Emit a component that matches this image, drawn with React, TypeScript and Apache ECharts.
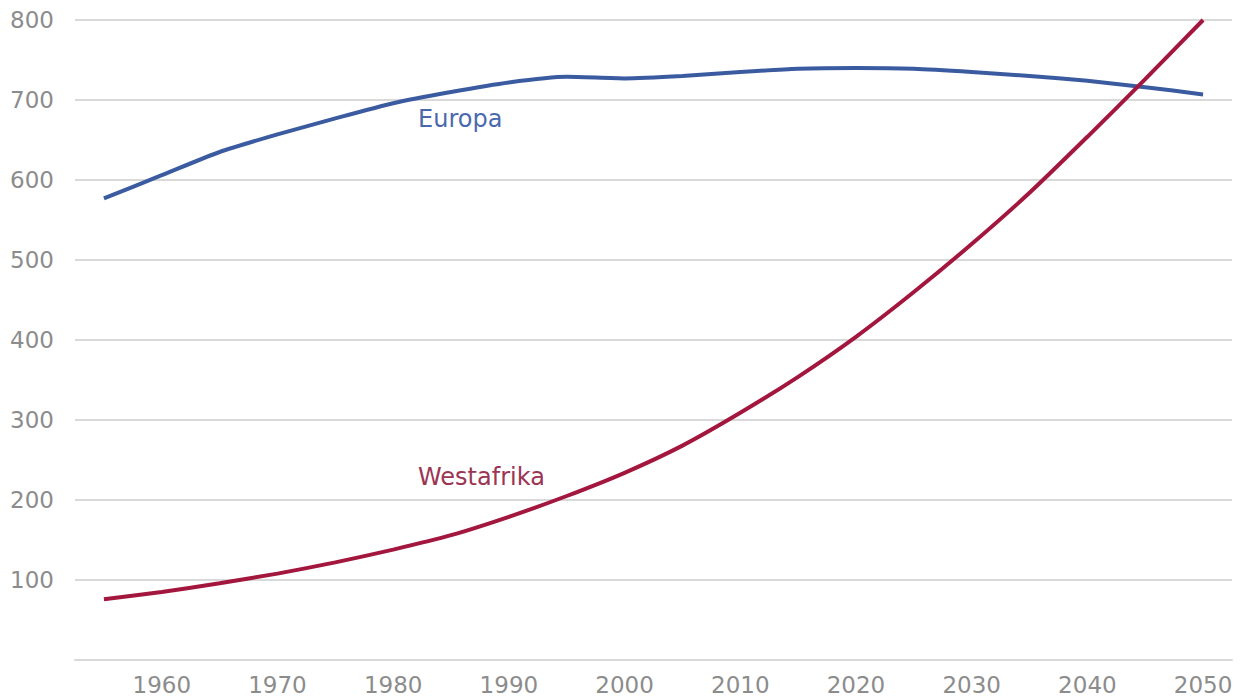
import React, { useEffect, useRef } from "react";
import * as echarts from "echarts";

const years = [
  "1955", "1960", "1965", "1970", "1975", "1980", "1985", "1990", "1995", "2000",
  "2005", "2010", "2015", "2020", "2025", "2030", "2035", "2040", "2045", "2050",
];
const europa = [577, 606, 635, 657, 677, 696, 710, 722, 729, 727, 730, 735, 739, 740, 739, 735, 730, 724, 716, 707];
const westafrika = [76, 85, 96, 108, 122, 138, 156, 179, 205, 234, 268, 309, 354, 404, 460, 520, 584, 654, 726, 800];
const seriesNames = ["Europa", "Westafrika"];

const FONT = "DejaVu Sans, Verdana, sans-serif";

export default function App() {
  const ref = useRef<HTMLDivElement>(null);
  useEffect(() => {
    if (!ref.current) return;
    const chart = echarts.init(ref.current, undefined, { renderer: "svg" });
    chart.setOption({
      animation: false,
      backgroundColor: "#ffffff",
      grid: { left: 75, right: 10, top: 20, bottom: 38, containLabel: false },
      xAxis: {
        type: "category",
        data: years,
        boundaryGap: true,
        axisLine: { show: true, lineStyle: { color: "#d9d9d9", width: 2 } },
        axisTick: { show: false },
        axisLabel: {
          interval: (_i: number, v: string) => Number(v) % 10 === 0,
          color: "#8c8c8c",
          fontSize: 23,
          fontFamily: FONT,
          margin: 13,
        },
        splitLine: { show: false },
      },
      yAxis: {
        type: "value",
        min: 0,
        max: 800,
        interval: 100,
        axisLine: { show: false },
        axisTick: { show: false },
        axisLabel: {
          color: "#8c8c8c",
          fontSize: 23,
          fontFamily: FONT,
          margin: 21,
          formatter: (v: number) => (v === 0 ? "" : String(v)),
        },
        splitLine: { show: true, lineStyle: { color: "#d9d9d9", width: 2 } },
      },
      series: [
        {
          name: seriesNames[0],
          type: "line",
          data: europa,
          symbol: "none",
          smooth: 0.2,
          lineStyle: { color: "#3b5ba1", width: 4 },
          z: 3,
        },
        {
          name: seriesNames[1],
          type: "line",
          data: westafrika,
          symbol: "none",
          smooth: 0.2,
          lineStyle: { color: "#a3173e", width: 4 },
          z: 4,
        },
      ],
      graphic: [
        {
          type: "text",
          left: 418,
          top: 107,
          style: { text: seriesNames[0], fill: "#4a69ad", font: `24px ${FONT}` },
        },
        {
          type: "text",
          left: 418,
          top: 465,
          style: { text: seriesNames[1], fill: "#9c3554", font: `24px ${FONT}` },
        },
      ],
    });
    return () => chart.dispose();
  }, []);
  return (
    <div
      ref={ref}
      style={{ position: "fixed", left: 0, top: 0, width: 1242, height: 698 }}
    />
  );
}
